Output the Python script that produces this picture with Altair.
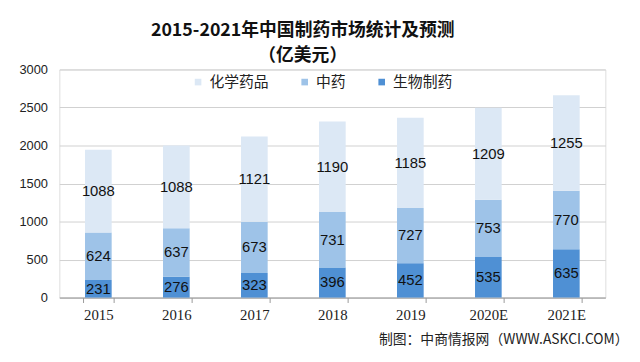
import altair as alt
import pandas as pd

years = ["2015", "2016", "2017", "2018", "2019", "2020E", "2021E"]
bio = [231, 276, 323, 396, 452, 535, 635]
tcm = [624, 637, 673, 731, 727, 753, 770]
chem = [1088, 1088, 1121, 1190, 1185, 1209, 1255]
series = ["化学药品", "中药", "生物制药"]
colors = ["#dce8f5", "#9ec3e8", "#4f90d4"]
order_map = {"生物制药": 0, "中药": 1, "化学药品": 2}

rows = []
for i, y in enumerate(years):
    for name, vals in (("生物制药", bio), ("中药", tcm), ("化学药品", chem)):
        rows.append({"year": y, "series": name, "value": vals[i], "ord": order_map[name]})
df = pd.DataFrame(rows)

x_axis = alt.Axis(title="制图：中商情报网（WWW.ASKCI.COM）", labelAngle=0,
                  labelFont="Liberation Serif", labelFontSize=15, labelColor="#222",
                  labelPadding=5, domainColor="#999", tickColor="#999",
                  tickBand="extent", tickSize=5,
                  titleFont="Noto Sans CJK SC", titleFontSize=14,
                  titleFontWeight="normal", titleColor="#222",
                  titleAnchor="end", titleAlign="right", titleBaseline="middle",
                  titleX=576, titleY=43)
y_axis = alt.Axis(title=None, values=[0, 500, 1000, 1500, 2000, 2500, 3000],
                  format="d", labelOverlap=False,
                  labelFont="Liberation Sans", labelFontSize=13, labelColor="#222",
                  gridColor="#d0d0d0", domain=False, ticks=False, labelPadding=12)
x_scale = alt.Scale(paddingInner=0.6, paddingOuter=0.3)
y_scale = alt.Scale(domain=[0, 3000])

base = alt.Chart(df).transform_stack(
    stack="value", groupby=["year"], as_=["v0", "v1"], sort=[alt.SortField("ord")]
).transform_calculate(mid="(datum.v0 + datum.v1) / 2")

bars = base.mark_bar(size=27).encode(
    x=alt.X("year:N", sort=years, scale=x_scale, axis=x_axis),
    y=alt.Y("v0:Q", scale=y_scale, axis=y_axis),
    y2="v1:Q",
    color=alt.Color("series:N", sort=series,
                    scale=alt.Scale(domain=series, range=colors),
                    legend=alt.Legend(title=None, orient="none", direction="horizontal",
                                      legendX=133, legendY=5, symbolType="square",
                                      symbolSize=45, labelFont="Noto Sans CJK SC",
                                      labelFontSize=15, labelColor="#222",
                                      columnPadding=28, symbolStrokeWidth=0,
                                      labelOffset=4)),
)

labels = base.mark_text(font="Liberation Sans", fontSize=15, color="#111").encode(
    x=alt.X("year:N", sort=years, scale=x_scale, axis=x_axis),
    y=alt.Y("mid:Q", scale=y_scale, axis=y_axis),
    text=alt.Text("value:Q"),
)

chart = alt.layer(bars, labels).properties(
    width=553, height=231,
    autosize=alt.AutoSizeParams(type="none"),
    padding={"left": 52, "top": 60, "right": 27, "bottom": 63},
    title=alt.TitleParams(["2015-2021年中国制药市场统计及预测", "（亿美元）"],
                          font="Noto Sans CJK SC", fontSize=18, fontWeight="bold",
                          color="#111", lineHeight=25, anchor="middle", dx=-30,
                          offset=-1, frame="group"),
).configure_view(stroke=None).configure(background="white")

chart.save("out.html", embed_options={"renderer": "svg", "actions": False})
